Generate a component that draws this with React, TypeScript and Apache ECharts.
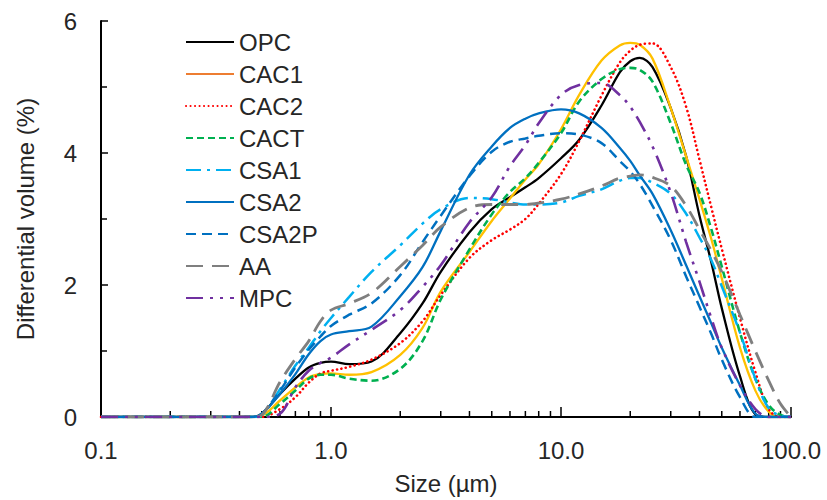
import React, { useEffect, useRef } from "react";
import * as echarts from "echarts";

// Particle size (µm), common x positions for all curves
const sizes = [0.1, 0.2, 0.3, 0.4, 0.45, 0.5, 0.6, 0.7, 0.8, 0.9, 1.0, 1.2, 1.5, 2, 2.5, 3, 4, 5, 6, 7, 8, 10, 12, 15, 18, 20, 22, 25, 30, 35, 40, 45, 50, 60, 70, 80, 90, 100];

const opc = [0, 0, 0, 0, 0, 0.05, 0.35, 0.58, 0.75, 0.82, 0.84, 0.8, 0.84, 1.27, 1.72, 2.2, 2.8, 3.15, 3.33, 3.48, 3.62, 3.92, 4.2, 4.72, 5.22, 5.39, 5.44, 5.3, 4.68, 3.95, 3.05, 2.35, 1.65, 0.62, 0.04, 0, 0, 0];
const cac1 = [0, 0, 0, 0, 0, 0.02, 0.25, 0.45, 0.6, 0.65, 0.66, 0.64, 0.68, 0.94, 1.35, 1.9, 2.5, 2.97, 3.31, 3.6, 3.83, 4.36, 4.88, 5.4, 5.63, 5.67, 5.64, 5.43, 4.68, 3.95, 3.3, 2.7, 2.1, 1.05, 0.4, 0.08, 0, 0];
const cac2 = [0, 0, 0, 0, 0, 0, 0.12, 0.3, 0.52, 0.66, 0.7, 0.76, 0.87, 1.12, 1.45, 1.85, 2.41, 2.68, 2.84, 3.0, 3.23, 3.68, 4.18, 4.87, 5.37, 5.55, 5.64, 5.66, 5.3, 4.7, 3.9, 3.18, 2.55, 1.5, 0.68, 0.12, 0, 0];
const cact = [0, 0, 0, 0, 0, 0, 0.2, 0.4, 0.58, 0.64, 0.64, 0.58, 0.55, 0.73, 1.15, 1.78, 2.54, 3.07, 3.41, 3.62, 3.85, 4.3, 4.78, 5.12, 5.27, 5.29, 5.26, 5.08, 4.45, 3.82, 3.4, 2.85, 2.28, 1.28, 0.58, 0.18, 0.03, 0];
const csa1 = [0, 0, 0, 0, 0, 0.03, 0.42, 0.78, 1.05, 1.3, 1.5, 1.82, 2.2, 2.6, 2.93, 3.15, 3.32, 3.3, 3.25, 3.22, 3.22, 3.25, 3.35, 3.45, 3.58, 3.62, 3.62, 3.55, 3.38, 3.08, 2.72, 2.38, 1.98, 1.28, 0.58, 0.13, 0.02, 0];
const csa2 = [0, 0, 0, 0, 0, 0.05, 0.35, 0.65, 0.95, 1.15, 1.25, 1.3, 1.37, 1.83, 2.27, 2.82, 3.67, 4.1, 4.38, 4.52, 4.6, 4.66, 4.6, 4.38, 4.08, 3.88, 3.66, 3.38, 2.83, 2.3, 1.83, 1.42, 1.05, 0.48, 0.05, 0, 0, 0];
const csa2p = [0, 0, 0, 0, 0, 0.05, 0.4, 0.75, 1.02, 1.22, 1.38, 1.55, 1.72, 2.15, 2.65, 3.05, 3.65, 4.02, 4.17, 4.22, 4.26, 4.3, 4.28, 4.15, 3.88, 3.72, 3.53, 3.2, 2.68, 2.13, 1.67, 1.26, 0.87, 0.3, 0, 0, 0, 0];
const aa = [0, 0, 0, 0, 0, 0.03, 0.53, 0.88, 1.15, 1.45, 1.62, 1.72, 1.88, 2.28, 2.6, 2.88, 3.17, 3.22, 3.22, 3.22, 3.24, 3.3, 3.38, 3.5, 3.62, 3.65, 3.67, 3.63, 3.5, 3.2, 2.84, 2.52, 2.2, 1.55, 1.0, 0.55, 0.2, 0];
const mpc = [0, 0, 0, 0, 0, 0, 0.05, 0.45, 0.7, 0.82, 0.9, 1.1, 1.32, 1.62, 1.97, 2.3, 2.95, 3.33, 3.8, 4.12, 4.45, 4.88, 5.03, 5.06, 4.88, 4.7, 4.47, 4.1, 3.4, 2.65, 2.05, 1.5, 1.05, 0.48, 0.12, 0, 0, 0];

const seriesNames = ["OPC", "CAC1", "CAC2", "CACT", "CSA1", "CSA2", "CSA2P", "AA", "MPC"];
const seriesValues = [opc, cac1, cac2, cact, csa1, csa2, csa2p, aa, mpc];

// minor tick positions on the log x axis
const xMinorTicks = [0.2, 0.3, 0.4, 0.5, 0.6, 0.7, 0.8, 0.9, 2, 3, 4, 5, 6, 7, 8, 9, 20, 30, 40, 50, 60, 70, 80, 90];

const FONT = "'Liberation Sans', Arial, sans-serif";
const FS = 24;

const lineStyles: any[] = [
  { color: "#000000", width: 2.3, type: "solid" },
  { color: "#FFC000", width: 2.3, type: "solid" },
  { color: "#FF0000", width: 2.6, type: [0.1, 4.4], cap: "round" },
  { color: "#00B050", width: 2.6, type: [7, 4] },
  { color: "#00B0F0", width: 2.5, type: [15, 6, 3, 6] },
  { color: "#0070C0", width: 2.3, type: "solid" },
  { color: "#0070C0", width: 2.5, type: [10, 6] },
  { color: "#7F7F7F", width: 2.8, type: [17, 9] },
  { color: "#7030A0", width: 2.6, type: [17, 7, 3, 7, 3, 7] },
];

export default function App() {
  const ref = useRef<HTMLDivElement>(null);
  useEffect(() => {
    const chart = echarts.init(ref.current as HTMLDivElement, null, { renderer: "svg" });
    const lineSeries = seriesNames.map((name, k) => ({
      name,
      type: "line",
      smooth: 0.35,
      symbol: "none",
      showSymbol: false,
      clip: true,
      color: lineStyles[k].color,
      lineStyle: lineStyles[k],
      data: sizes.map((s, i) => [s, seriesValues[k][i]]),
      z: 3,
    }));
    const option: any = {
      animation: false,
      backgroundColor: "#ffffff",
      textStyle: { fontFamily: FONT },
      grid: { left: 101, right: 36, top: 21, bottom: 78, containLabel: false },
      legend: {
        orient: "vertical",
        left: 180,
        top: 25,
        itemWidth: 48,
        itemHeight: 14,
        itemGap: 8,
        selectedMode: false,
        itemStyle: { opacity: 0 },
        textStyle: { fontSize: FS, color: "#262626", fontFamily: FONT, lineHeight: 24 },
        data: seriesNames.map((n) =>
          n === "CAC1" ? { name: n, lineStyle: { color: "#ED7D31" } } : { name: n }
        ),
      },
      xAxis: {
        type: "log",
        logBase: 10,
        min: 0.1,
        max: 100,
        name: "Size (µm)",
        nameLocation: "middle",
        nameGap: 54,
        nameTextStyle: { fontSize: FS, color: "#262626", fontFamily: FONT },
        axisLine: { show: true, lineStyle: { color: "#000", width: 2 } },
        axisTick: { show: true, inside: true, length: 10, lineStyle: { color: "#000", width: 1.5 } },
        axisLabel: {
          fontSize: FS,
          color: "#262626",
          fontFamily: FONT,
          margin: 21,
          formatter: (v: number) => v.toFixed(1),
        },
        splitLine: { show: false },
      },
      yAxis: {
        type: "value",
        min: 0,
        max: 6,
        interval: 2,
        name: "Differential volume (%)",
        nameLocation: "middle",
        nameGap: 64,
        nameTextStyle: { fontSize: FS, color: "#262626", fontFamily: FONT },
        axisLine: { show: true, lineStyle: { color: "#000", width: 2 } },
        axisTick: { show: true, inside: true, length: 7, lineStyle: { color: "#000", width: 1.5 } },
        minorTick: { show: true, splitNumber: 2, length: 6, lineStyle: { color: "#000", width: 1.5 } },
        axisLabel: { fontSize: FS, color: "#262626", fontFamily: FONT, margin: 24 },
        splitLine: { show: false },
      },
      series: [
        {
          name: "xMinorTicks",
          type: "custom",
          silent: true,
          clip: false,
          z: 2,
          data: xMinorTicks.map((v) => [v, 0]),
          renderItem: (_params: any, api: any) => {
            const p = api.coord([api.value(0), 0]);
            return {
              type: "line",
              shape: { x1: p[0], y1: p[1], x2: p[0], y2: p[1] - 6 },
              style: { stroke: "#000", lineWidth: 1.5 },
            };
          },
        },
        ...lineSeries,
      ],
    };
    chart.setOption(option);
    return () => chart.dispose();
  }, []);
  return (
    <div
      ref={ref}
      style={{ position: "absolute", left: 0, top: 0, width: 827, height: 500, background: "#fff" }}
    />
  );
}
